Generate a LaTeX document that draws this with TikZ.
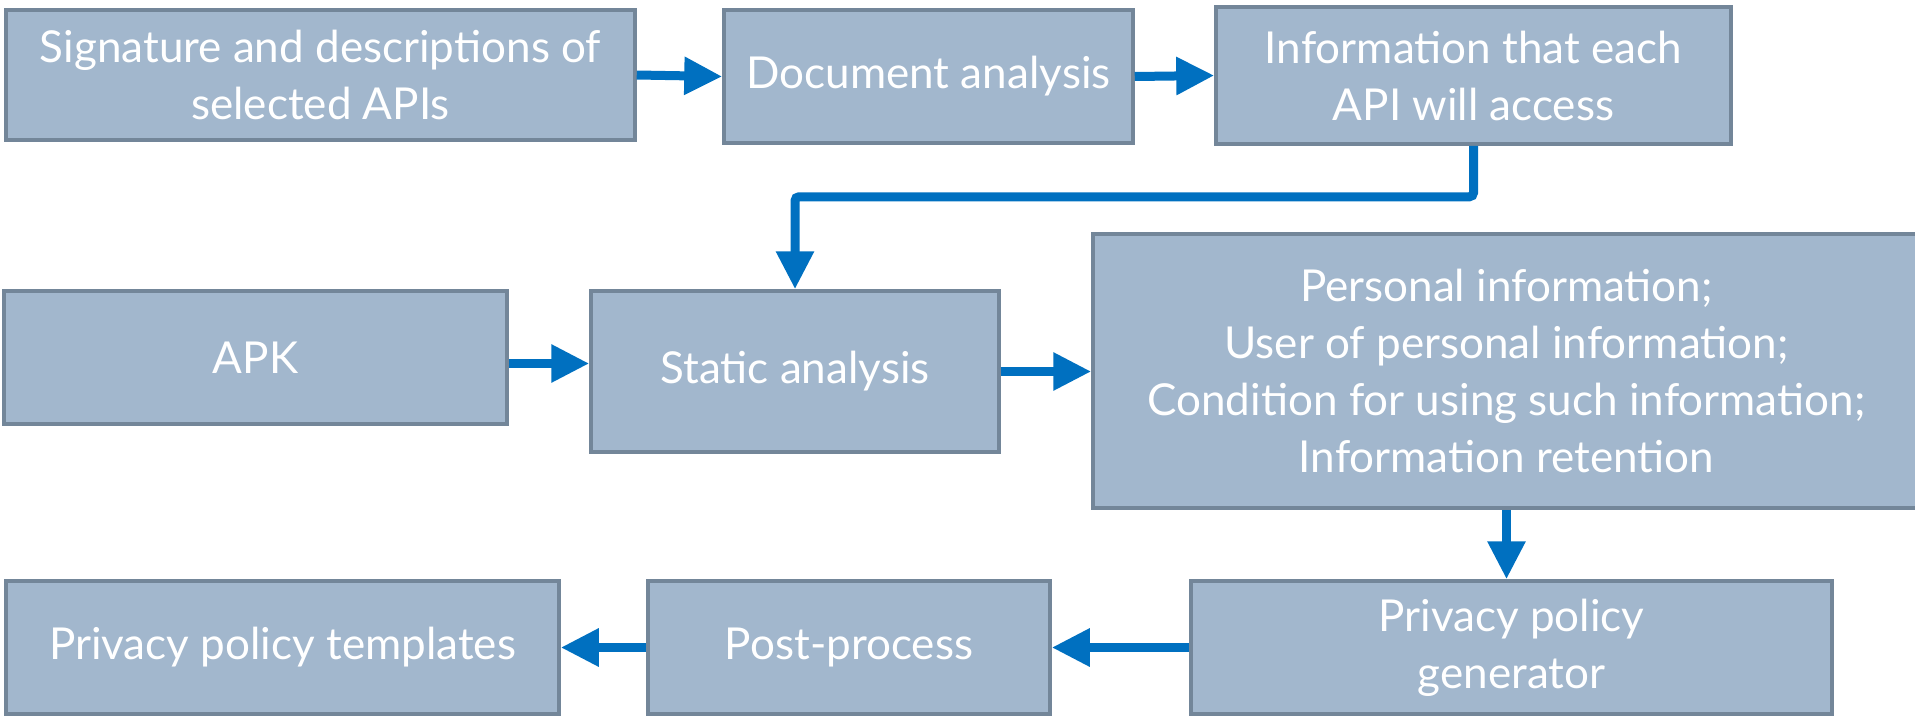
\documentclass[tikz,border=0pt]{standalone}
\usepackage{fontspec}
\setmainfont{Lato}
\usetikzlibrary{arrows.meta}
\definecolor{boxfill}{HTML}{A2B7CD}
\definecolor{boxline}{HTML}{738699}
\definecolor{arrowc}{HTML}{0070C0}
\begin{document}
\begin{tikzpicture}[x=1pt,y=-1pt,
 box/.style={draw=boxline, fill=boxfill, line width=3.5pt, text=white, align=center,
   font=\fontsize{44}{57}\selectfont, inner sep=0pt},
 flow/.style={draw=arrowc, line width=9pt, -{Triangle[length=38pt,width=36pt]}}]
\useasboundingbox (0,0) rectangle (1915,717);
\node[box, minimum width=629, minimum height=130] (b1) at (320.5,75) {Signature and descriptions of\\selected APIs};
\node[box, minimum width=409, minimum height=133] (b2) at (928.5,76.5) {Document analysis};
\node[box, minimum width=515, minimum height=137] (b3) at (1473.5,75.5) {Information that each\\API will access};
\node[box, minimum width=503, minimum height=133] (apk) at (255.5,357.5) {APK};
\node[box, minimum width=408, minimum height=161] (st) at (795,371.5) {Static analysis};
\node[box, minimum width=827, minimum height=274] (pi) at (1506.5,371) {Personal information;\\User of personal information;\\Condition for using such information;\\Information retention};
\node[box, minimum width=641, minimum height=133] (gen) at (1511.5,647.5) {Privacy policy\\generator};
\node[box, minimum width=402, minimum height=133] (post) at (849,647.5) {Post-process};
\node[box, minimum width=553, minimum height=133] (tpl) at (282.5,647.5) {Privacy policy templates};
\draw[flow] (b1.east) -- (b2.west);
\draw[flow] (b2.east) -- (b3.west);
\draw[flow, rounded corners=4pt] (b3.south) -- ++(0,51) -| (st.north);
\draw[flow] ([yshift=-6pt]apk.east) -- ([yshift=-6pt]apk.east -| st.west);
\draw[flow] (st.east) -- (st.east -| pi.west);
\draw[flow] (pi.south) -- (pi.south |- gen.north);
\draw[flow] (gen.west) -- (post.east);
\draw[flow] (post.west) -- (tpl.east);
\end{tikzpicture}
\end{document}
